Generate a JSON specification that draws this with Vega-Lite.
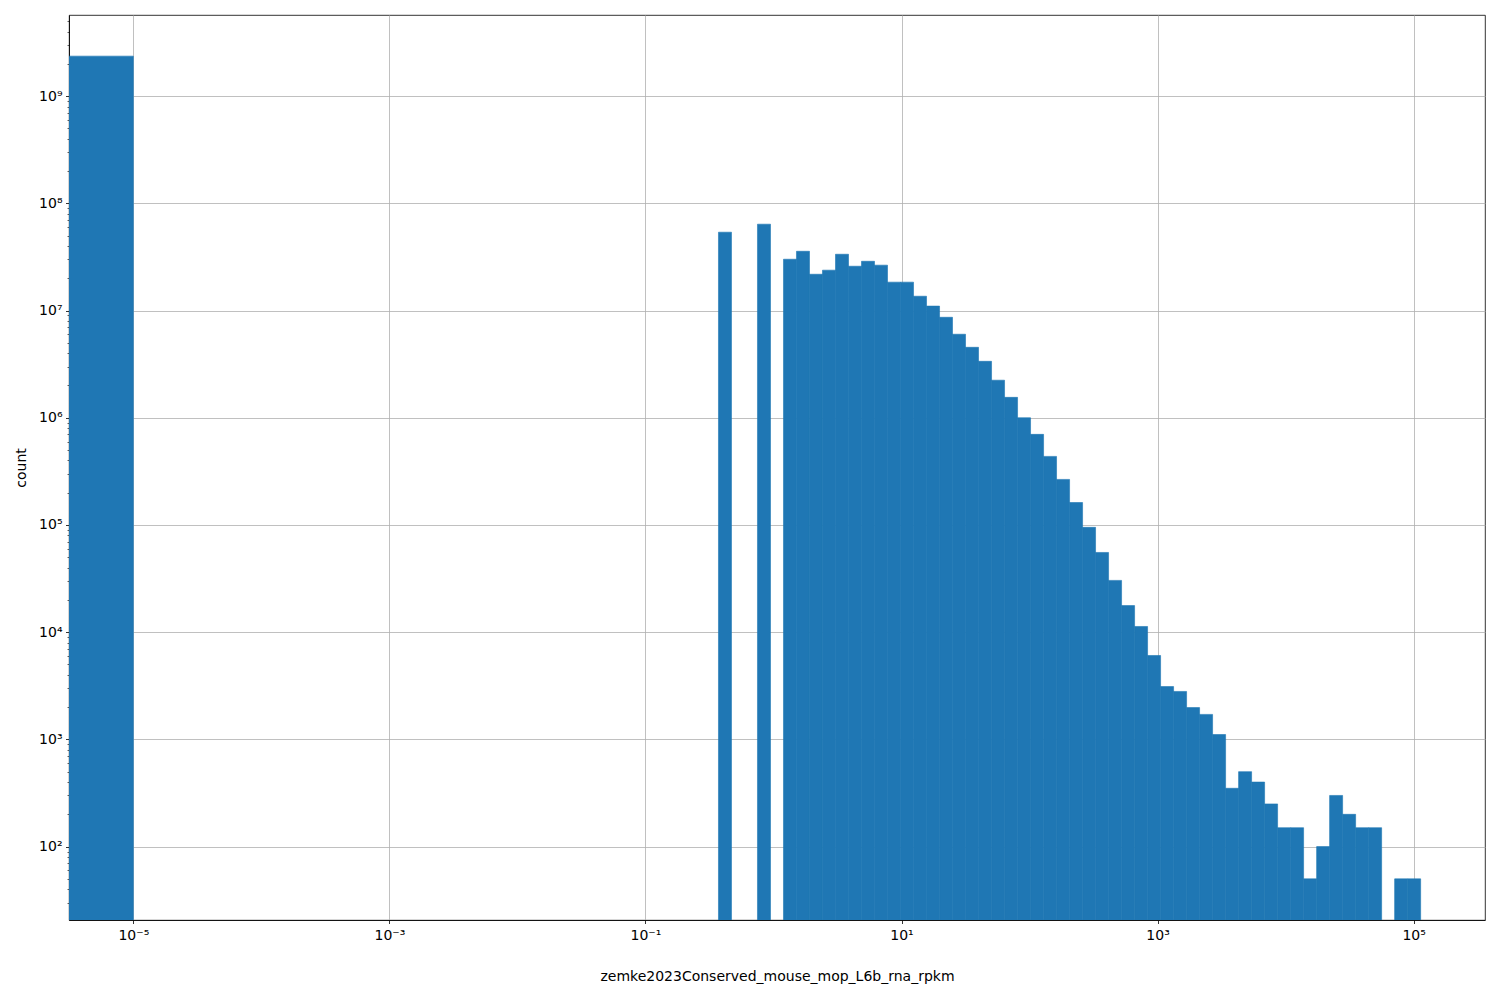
{
  "$schema": "https://vega.github.io/schema/vega-lite/v6.json",
  "width": 1416,
  "height": 905,
  "autosize": {"type": "none"},
  "padding": {"left": 69, "top": 15, "right": 15, "bottom": 80},
  "background": "white",
  "config": {
    "view": {"stroke": "black", "strokeWidth": 0.8},
    "font": "DejaVu Sans",
    "axis": {
      "labelFont": "DejaVu Sans",
      "labelFontSize": 14,
      "labelColor": "black",
      "titleFont": "DejaVu Sans",
      "titleFontSize": 14,
      "titleFontWeight": "normal",
      "titleColor": "black",
      "domainColor": "black",
      "domainWidth": 0.8,
      "tickColor": "black",
      "tickWidth": 0.8,
      "tickSize": 3.5,
      "gridColor": "#b0b0b0",
      "gridWidth": 0.8,
      "zindex": 1
    }
  },
  "data": {
    "values": [
      {"lo": 1e-7, "hi": 1e-5, "count": 2360000000},
      {"lo": 0.3718, "hi": 0.4698, "count": 53800000},
      {"lo": 0.7499, "hi": 0.9475, "count": 63900000},
      {"lo": 1.1972, "hi": 1.5122, "count": 30100000},
      {"lo": 1.5122, "hi": 1.9107, "count": 35700000},
      {"lo": 1.9107, "hi": 2.4144, "count": 21800000},
      {"lo": 2.4144, "hi": 3.0507, "count": 23800000},
      {"lo": 3.0507, "hi": 3.8546, "count": 33500000},
      {"lo": 3.8546, "hi": 4.8697, "count": 25900000},
      {"lo": 4.8697, "hi": 6.1522, "count": 28800000},
      {"lo": 6.1522, "hi": 7.7727, "count": 26500000},
      {"lo": 7.7727, "hi": 9.8218, "count": 18400000},
      {"lo": 9.8218, "hi": 12.409, "count": 18400000},
      {"lo": 12.409, "hi": 15.679, "count": 13600000},
      {"lo": 15.679, "hi": 19.813, "count": 11000000},
      {"lo": 19.813, "hi": 25.02, "count": 8650000},
      {"lo": 25.02, "hi": 31.62, "count": 6010000},
      {"lo": 31.62, "hi": 39.95, "count": 4540000},
      {"lo": 39.95, "hi": 50.48, "count": 3360000},
      {"lo": 50.48, "hi": 63.78, "count": 2240000},
      {"lo": 63.78, "hi": 80.59, "count": 1550000},
      {"lo": 80.59, "hi": 101.8, "count": 1000000},
      {"lo": 101.8, "hi": 128.7, "count": 700000},
      {"lo": 128.7, "hi": 162.5, "count": 436000},
      {"lo": 162.5, "hi": 205.4, "count": 266000},
      {"lo": 205.4, "hi": 259.5, "count": 162000},
      {"lo": 259.5, "hi": 327.8, "count": 95000},
      {"lo": 327.8, "hi": 414.2, "count": 55400},
      {"lo": 414.2, "hi": 523.3, "count": 30400},
      {"lo": 523.3, "hi": 661.3, "count": 17700},
      {"lo": 661.3, "hi": 835.4, "count": 11300},
      {"lo": 835.4, "hi": 1055.5, "count": 6060},
      {"lo": 1055.5, "hi": 1333.5, "count": 3110},
      {"lo": 1333.5, "hi": 1684.8, "count": 2800},
      {"lo": 1684.8, "hi": 2128.8, "count": 1980},
      {"lo": 2128.8, "hi": 2689.5, "count": 1710},
      {"lo": 2689.5, "hi": 3398.4, "count": 1110},
      {"lo": 3398.4, "hi": 4293.1, "count": 350},
      {"lo": 4293.1, "hi": 5425.3, "count": 500},
      {"lo": 5425.3, "hi": 6854.5, "count": 400},
      {"lo": 6854.5, "hi": 8659.6, "count": 250},
      {"lo": 8659.6, "hi": 10942, "count": 150},
      {"lo": 10942, "hi": 13822, "count": 150},
      {"lo": 13822, "hi": 17469, "count": 50},
      {"lo": 17469, "hi": 22070, "count": 100},
      {"lo": 22070, "hi": 27876, "count": 300},
      {"lo": 27876, "hi": 35229, "count": 200},
      {"lo": 35229, "hi": 44503, "count": 150},
      {"lo": 44503, "hi": 56234, "count": 150},
      {"lo": 71057, "hi": 89767, "count": 50},
      {"lo": 89767, "hi": 113430, "count": 50}
    ]
  },
  "mark": {"type": "bar", "color": "#1f77b4", "stroke": "#1f77b4", "strokeWidth": 0.6, "clip": true},
  "encoding": {
    "x": {
      "field": "lo",
      "type": "quantitative",
      "scale": {"type": "log", "domain": [3.144e-6, 360900]},
      "axis": {
        "values": [1e-5, 0.001, 0.1, 10, 1000, 100000],
        "labelExpr": "round(log(datum.value)/LN10) == -5 ? '10⁻⁵' : round(log(datum.value)/LN10) == -3 ? '10⁻³' : round(log(datum.value)/LN10) == -1 ? '10⁻¹' : round(log(datum.value)/LN10) == 1 ? '10¹' : round(log(datum.value)/LN10) == 3 ? '10³' : '10⁵'",
        "labelPadding": 5,
        "labelFlush": false,
        "title": "zemke2023Conserved_mouse_mop_L6b_rna_rpkm",
        "titleY": 56,
        "titleBaseline": "middle",
        "grid": true
      }
    },
    "x2": {"field": "hi"},
    "y": {
      "field": "count",
      "type": "quantitative",
      "scale": {"type": "log", "domain": [20.67, 5710000000]},
      "axis": {
        "values": [30, 40, 50, 60, 70, 80, 90, 100, 200, 300, 400, 500, 600, 700, 800, 900, 1000, 2000, 3000, 4000, 5000, 6000, 7000, 8000, 9000, 10000, 20000, 30000, 40000, 50000, 60000, 70000, 80000, 90000, 100000, 200000, 300000, 400000, 500000, 600000, 700000, 800000, 900000, 1000000, 2000000, 3000000, 4000000, 5000000, 6000000, 7000000, 8000000, 9000000, 10000000, 20000000, 30000000, 40000000, 50000000, 60000000, 70000000, 80000000, 90000000, 100000000, 200000000, 300000000, 400000000, 500000000, 600000000, 700000000, 800000000, 900000000, 1000000000, 2000000000, 3000000000, 4000000000, 5000000000],
        "labelExpr": "abs(log(datum.value)/LN10 - round(log(datum.value)/LN10)) > 0.01 ? '' : round(log(datum.value)/LN10) == 2 ? '10²' : round(log(datum.value)/LN10) == 3 ? '10³' : round(log(datum.value)/LN10) == 4 ? '10⁴' : round(log(datum.value)/LN10) == 5 ? '10⁵' : round(log(datum.value)/LN10) == 6 ? '10⁶' : round(log(datum.value)/LN10) == 7 ? '10⁷' : round(log(datum.value)/LN10) == 8 ? '10⁸' : '10⁹'",
        "tickSize": {"condition": {"test": "abs(log(datum.value)/LN10 - round(log(datum.value)/LN10)) > 0.01", "value": 2}, "value": 3.5},
        "tickWidth": {"condition": {"test": "abs(log(datum.value)/LN10 - round(log(datum.value)/LN10)) > 0.01", "value": 0.6}, "value": 0.8},
        "gridOpacity": {"condition": {"test": "abs(log(datum.value)/LN10 - round(log(datum.value)/LN10)) > 0.01", "value": 0}, "value": 1},
        "labelPadding": 3.5,
        "labelBaseline": "middle",
        "labelOverlap": false,
        "labelFlush": false,
        "title": "count",
        "titleX": -48,
        "titleBaseline": "middle",
        "grid": true
      }
    },
    "y2": {"datum": 1}
  }
}
